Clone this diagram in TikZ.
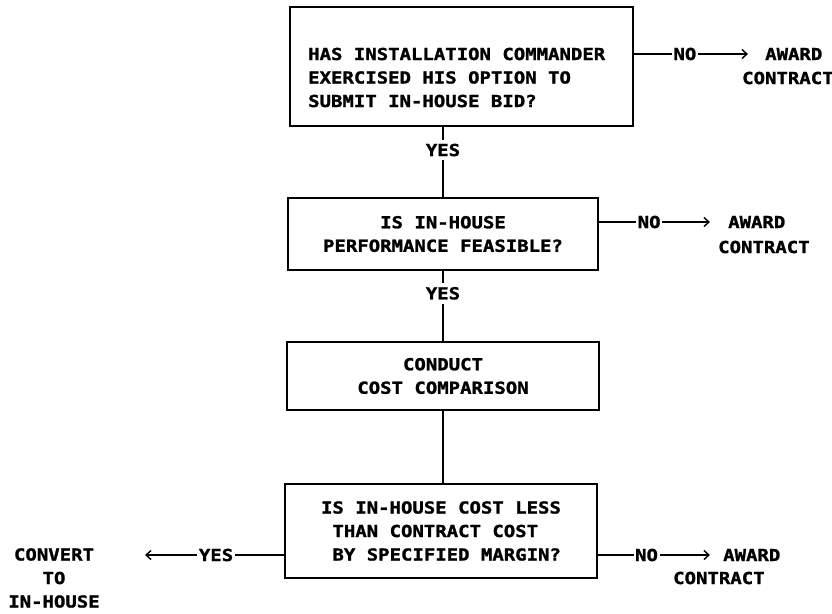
\documentclass[tikz,border=0pt]{standalone}
\usepackage{fontspec}
\newfontfamily\flowfont{DejaVu Sans Mono}[FakeStretch=1.15, BoldFeatures={FakeBold=1.5}]
\usetikzlibrary{arrows.meta}

\tikzset{
  qbox/.style={draw, line width=1.4pt, inner sep=0pt},
  link/.style={line width=1.4pt},
  arr/.style={link, -{Straight Barb[length=5pt,width=9pt]}},
  lbl/.style={fill=white, inner xsep=1.5pt, inner ysep=4pt},
  word/.style={inner sep=0pt, anchor=west},
}

\begin{document}
\begin{tikzpicture}[x=1pt,y=-1pt,font=\flowfont\bfseries\fontsize{16.5}{23.5}\selectfont]
  \useasboundingbox (0,0) rectangle (832,613);

  % question boxes
  \node[qbox, minimum width=343pt, minimum height=119pt] (q1) at (461.5,66.5) {};
  \node[inner sep=0pt, anchor=west, align=left] (t1) at (308,77.5)
    {HAS INSTALLATION COMMANDER\\EXERCISED HIS OPTION TO\\SUBMIT IN-HOUSE BID?};
  \node[qbox, minimum width=310pt, minimum height=72pt, align=center] (q2) at (443,234)
    {IS IN-HOUSE\\PERFORMANCE FEASIBLE?};
  \node[qbox, minimum width=312pt, minimum height=68pt, align=center] (q3) at (443,376)
    {CONDUCT\\COST COMPARISON};
  \node[qbox, minimum width=312pt, minimum height=94pt, align=left] (q4) at (441,531)
    {IS IN-HOUSE COST LESS\\\ THAN CONTRACT COST\\\ BY SPECIFIED MARGIN?};

  % outcomes
  \node[word] (aw1) at (765,54) {AWARD};
  \node[word] (ct1) at (742,78) {CONTRACT};
  \node[word] (aw2) at (728,222) {AWARD};
  \node[word] (ct2) at (718,247) {CONTRACT};
  \node[word] (aw3) at (723,555) {AWARD};
  \node[word] (ct3) at (673,578) {CONTRACT};
  \node[align=center, inner sep=0pt] (cv) at (54,578) {CONVERT\\TO\\IN-HOUSE};
  \coordinate (cvtip) at (145,555);

  % yes path
  \draw[link] (q1.south -| q2.north) -- node[lbl, pos=0.33] {YES} (q2.north);
  \draw[link] (q2) -- node[lbl, pos=0.32] {YES} (q3);
  \draw[link] (q3.south) -- (q3.south |- q4.north);
  \draw[arr] (q4.west |- cvtip) -- node[lbl, pos=0.49] {YES} (cvtip);

  % no path
  \draw[arr, shorten >=17pt] (q1.east |- aw1.west) -- node[lbl, pos=0.39] {NO} (aw1.west);
  \draw[arr, shorten >=18pt] (q2.east |- aw2.west) -- node[lbl, pos=0.39] {NO} (aw2.west);
  \draw[arr, shorten >=13pt] (q4.east |- aw3.west) -- node[lbl, pos=0.39] {NO} (aw3.west);
\end{tikzpicture}
\end{document}
